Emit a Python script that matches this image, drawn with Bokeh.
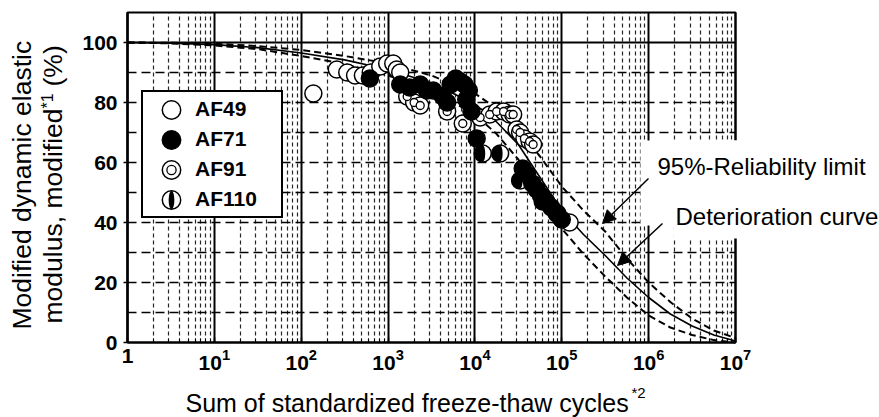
import math
from bokeh.plotting import figure
from bokeh.models import (Range1d, FixedTicker, LogTickFormatter, Grid, Label, Arrow,
                          NormalHead, BoxAnnotation, Legend, LegendItem, ColumnDataSource)
from bokeh.embed import file_html
from bokeh.resources import INLINE

# ---------------- data ----------------
curve_x = [1, 3.16, 10, 31.6, 100, 316, 1000, 3162, 10000, 17783, 31623, 56234,
           100000, 177828, 316228, 562341, 1000000, 1778279, 3162278, 5623413, 10000000]
curve_mid = [100, 99.8, 99.3, 98.3, 96.5, 94.2, 91, 86.5, 79.5, 73.5, 66, 55,
             44, 36, 29, 21.5, 15, 9.5, 5.5, 2.5, 0.5]
curve_upper = [100, 99.9, 99.6, 98.8, 97.5, 95.5, 93, 89, 83, 78, 71, 62,
               52, 44, 37, 28, 20, 13.5, 8, 4, 1.5]
curve_lower = [100, 99.7, 99, 97.8, 95.5, 92.8, 89, 84, 76, 69.5, 61, 50,
               38, 29.5, 22, 15, 9, 5, 2.5, 0.8, 0]

af49_x = [138, 257, 339, 417, 513, 631, 813, 977, 1148, 1259, 1380, 1862, 89125, 123000]
af49_y = [83, 91, 90, 89, 89, 90, 92, 93, 93, 91, 90, 82, 43, 40]

af71_x = [617, 1380, 1778, 2344, 2818, 3311, 4266, 4786, 5248, 6026, 6761, 7586, 7943,
          8511, 9120, 10470, 35480, 39810, 45710, 51290, 57540, 66070, 75860, 87100, 100000]
af71_y = [88, 86, 85, 86, 84, 84, 82, 80, 86, 88, 87, 86, 81, 84, 77, 68, 58, 56, 53,
          51, 49, 47, 45, 43, 41]

af91_x = [1660, 1995, 2344, 4786, 7244, 11480, 14790, 17780, 21380, 25120, 27540,
          30200, 33110, 37150, 42660, 46770]
af91_y = [82, 80, 79, 77, 73, 75, 76, 77, 77, 76, 76, 71, 70, 68, 67, 66]

af110_x = [12300, 19500, 33100, 60260]
af110_y = [63, 63, 54, 47]

x_major = [1, 10, 100, 1000, 10000, 100000, 1000000, 10000000]
y_major = [0, 20, 40, 60, 80, 100]
y_grid = [10, 20, 30, 40, 50, 60, 70, 80, 90]
y_top_line = [100]

# ---------------- layout helpers ----------------
W, H = 879, 417
L, R, T, B = 127, 735, 12, 342          # pixel box of the plotting area
XMIN, XMAX, YMIN, YMAX = 1, 1e7, 0, 110
DEC = (R - L) / 7                      # pixels per decade
YPX = (B - T) / (YMAX - YMIN)          # pixels per unit


def px_x(px):
    return 10 ** ((px - L) / DEC)


def px_y(py):
    return (B - py) / YPX


# the frame covers the whole canvas; axes are pinned with fixed_location
p = figure(width=W, height=H, x_axis_type="log",
           x_range=Range1d(px_x(0), px_x(W)), y_range=Range1d(px_y(H), px_y(0)),
           output_backend="svg", toolbar_location=None, min_border=0)
p.background_fill_color = "white"
p.border_fill_color = "white"
p.outline_line_color = None

minor = [m * 10 ** k for k in range(7) for m in range(2, 10)]
xt = FixedTicker(ticks=x_major, minor_ticks=minor)
xa = p.xaxis[0]
xa.ticker = xt
xa.formatter = LogTickFormatter(min_exponent=1)
xa.fixed_location = YMIN
xa.bounds = (XMIN, XMAX)
ya = p.yaxis[0]
ya.ticker = FixedTicker(ticks=y_major)
ya.fixed_location = XMIN
ya.bounds = (YMIN, YMAX)

for ax in (xa, ya):
    ax.axis_line_color = "black"
    ax.axis_line_width = 2
    ax.major_label_text_font = "Liberation Sans"
    ax.major_label_text_font_style = "bold"
    ax.major_label_text_font_size = "21px"
    ax.major_label_text_color = "black"
    ax.major_tick_line_color = "black"
    ax.major_tick_line_width = 1.5
xa.major_tick_in = 5
xa.major_tick_out = 0
xa.minor_tick_in = 4
xa.minor_tick_out = 0
xa.minor_tick_line_color = "black"
xa.major_label_standoff = 6
ya.major_tick_in = 0
ya.major_tick_out = 4
ya.minor_tick_line_color = None
ya.major_label_standoff = 6

p.xgrid.ticker = xt
p.xgrid.bounds = (XMIN, XMAX)
p.xgrid.cross_bounds = (YMIN, YMAX)
p.xgrid.grid_line_color = "black"
p.xgrid.grid_line_width = 2
p.xgrid.grid_line_alpha = 1
p.xgrid.minor_grid_line_color = "black"
p.xgrid.minor_grid_line_width = 1.2
p.xgrid.minor_grid_line_alpha = 0.85
p.xgrid.minor_grid_line_dash = "4 3"

p.ygrid.ticker = FixedTicker(ticks=y_grid)
p.ygrid.bounds = (YMIN, YMAX)
p.ygrid.cross_bounds = (XMIN, XMAX)
p.ygrid.grid_line_color = "black"
p.ygrid.grid_line_width = 1.5
p.ygrid.grid_line_alpha = 1
p.ygrid.grid_line_dash = "9 5"

p.add_layout(Grid(dimension=1, ticker=FixedTicker(ticks=y_top_line),
                  bounds=(YMIN, YMAX), cross_bounds=(XMIN, XMAX),
                  grid_line_color="black", grid_line_width=2, grid_line_alpha=1))

# border of the plotting area
p.add_layout(BoxAnnotation(left=XMIN, right=XMAX, bottom=YMIN, top=YMAX,
                           fill_color=None, fill_alpha=0, line_color="black",
                           line_width=2, line_alpha=1, level="underlay"))

# white patches behind the annotation texts
p.add_layout(BoxAnnotation(left=px_x(640), right=px_x(760), top=px_y(140), bottom=px_y(225),
                           fill_color="white", fill_alpha=1, line_color=None, level="underlay"))
p.add_layout(BoxAnnotation(left=px_x(673), right=px_x(760), top=px_y(140), bottom=px_y(238),
                           fill_color="white", fill_alpha=1, line_color=None, level="underlay"))

# curves
p.line(curve_x, curve_upper, line_color="black", line_width=2, line_dash="7 4")
p.line(curve_x, curve_lower, line_color="black", line_width=2, line_dash="7 4")
p.line(curve_x, curve_mid, line_color="black", line_width=1.6)

# markers
s49 = ColumnDataSource(dict(x=af49_x, y=af49_y))
s71 = ColumnDataSource(dict(x=af71_x, y=af71_y))
s91 = ColumnDataSource(dict(x=af91_x, y=af91_y))
s110 = ColumnDataSource(dict(x=af110_x, y=af110_y))

mk = dict(width=17, height=17, width_units="screen", height_units="screen",
          line_color="black", line_width=1.5)
r49 = p.ellipse(x="x", y="y", source=s49, fill_color="white", **mk)
r91 = p.ellipse(x="x", y="y", source=s91, fill_color="white", **mk)
r91i = p.scatter(x="x", y="y", source=s91, marker="circle", size=8,
                 fill_color="white", line_color="black", line_width=1.3)
r110 = p.ellipse(x="x", y="y", source=s110, fill_color="white", **mk)
p.wedge(x="x", y="y", source=s110, radius=8.5, radius_units="screen",
        start_angle=math.pi / 2, end_angle=3 * math.pi / 2,
        fill_color="black", line_color=None)
r110b = p.ellipse(x="x", y="y", source=s110, width=5, height=16, width_units="screen",
                  height_units="screen", fill_color="black", line_color=None)
r71 = p.ellipse(x="x", y="y", source=s71, fill_color="black", **mk)

legend = Legend(items=[LegendItem(label="AF49", renderers=[r49]),
                       LegendItem(label="AF71", renderers=[r71]),
                       LegendItem(label="AF91", renderers=[r91, r91i]),
                       LegendItem(label="AF110", renderers=[r110, r110b])],
                location=(141, H - 218), padding=5, spacing=6, margin=0,
                glyph_height=23, glyph_width=46, label_height=23, label_width=81,
                label_standoff=1,
                label_text_font="Liberation Sans", label_text_font_style="bold",
                label_text_font_size="21px", label_text_color="black",
                border_line_color="black", border_line_width=2, border_line_alpha=1,
                background_fill_color="white", background_fill_alpha=1)
p.add_layout(legend)

# arrows and annotation texts
head = dict(size=13, fill_color="black", line_color="black")
p.add_layout(Arrow(end=NormalHead(**head), x_start=px_x(648), y_start=px_y(178),
                   x_end=px_x(602), y_end=px_y(223), line_width=1.5, line_color="black"))
p.add_layout(Arrow(end=NormalHead(**head), x_start=px_x(662), y_start=px_y(223),
                   x_end=px_x(617), y_end=px_y(265), line_width=1.5, line_color="black"))

txt = dict(text_font="Liberation Sans", text_color="black", text_baseline="alphabetic",
           text_align="left")


def add_text(px, py, text, size, angle=0.0):
    # (px, py): start of the baseline in canvas pixels; Bokeh draws the
    # alphabetic baseline about 0.4 em lower, so compensate for it
    shift = 0.4 * size
    if angle:
        px -= shift
    else:
        py -= shift
    p.add_layout(Label(x=px_x(px), y=px_y(py), text=text, text_font_size=f"{size}px",
                       angle=angle, **txt))


add_text(657, 176, "95%-Reliability limit", 24)
add_text(675, 226, "Deterioration curve", 24)

# x axis title with superscript
add_text(185, 412, "Sum of standardized freeze-thaw cycles", 25)
add_text(631, 398, "*2", 15)

# y axis title (two rotated lines) with superscript
rot = math.pi / 2
add_text(32, 329, "Modified dynamic elastic", 26.5, rot)
add_text(63, 323, "modulus, modified", 26.5, rot)
add_text(53, 108, "*1", 16, rot)
add_text(63, 86, "(%)", 26.5, rot)

open("out.html", "w").write(file_html(p, INLINE))
